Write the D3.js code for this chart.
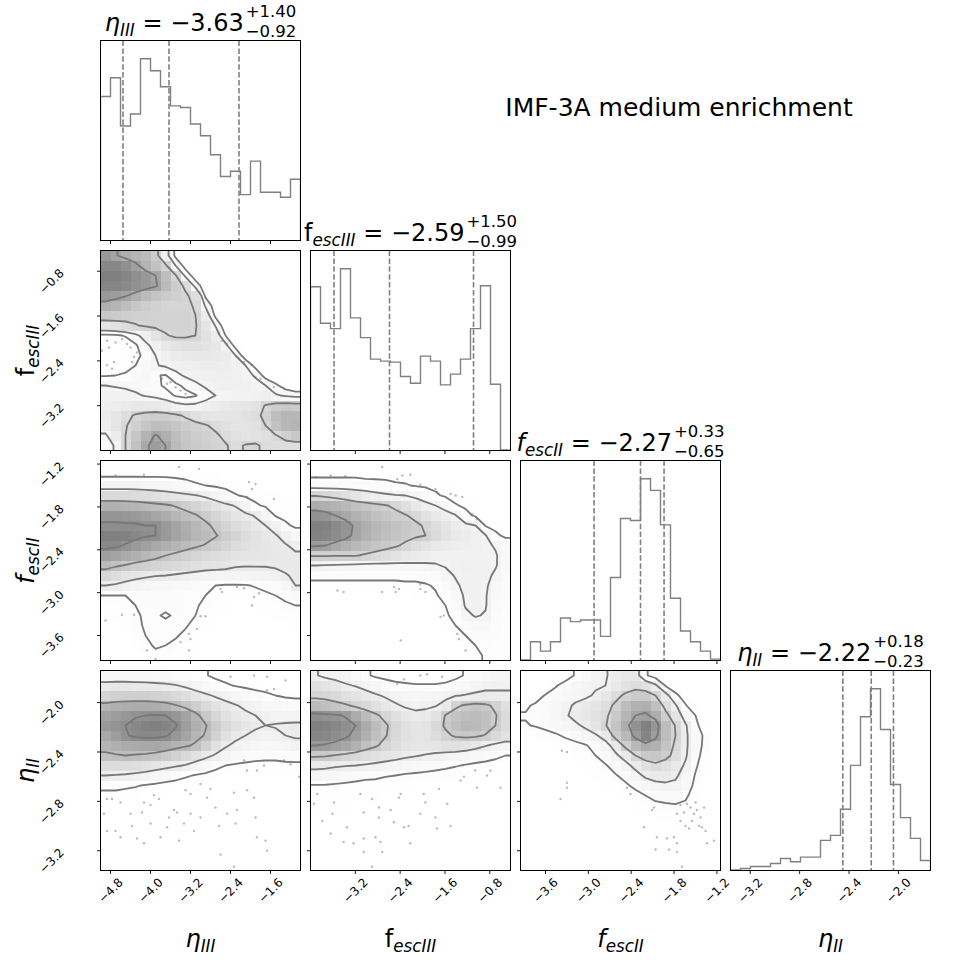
<!DOCTYPE html>
<html>
<head>
<meta charset="utf-8">
<script src="https://cdn.jsdelivr.net/npm/d3@7"></script>
<style>
  html,body{margin:0;padding:0;background:#fff;}
  svg{display:block;}
  text{font-family:"DejaVu Sans","Liberation Sans",sans-serif;fill:#000;}
</style>
</head>
<body>
<svg id="chart" width="970" height="970"></svg>
<script>
// ================= DATA =================
const SUPTITLE = "IMF-3A medium enrichment";

const RANGE_ETA3  = [-5.0, -1.0];
const RANGE_FESC3 = [-4.0, -0.43];
const RANGE_FESC2 = [-3.95, -1.15];
const RANGE_ETA2  = [-3.36, -1.74];

const TICKS_ETA3  = [-4.8, -4.0, -3.2, -2.4, -1.6];
const TICKS_FESC3 = [-3.2, -2.4, -1.6, -0.8];
const TICKS_FESC2 = [-3.6, -3.0, -2.4, -1.8, -1.2];
const TICKS_ETA2  = [-3.2, -2.8, -2.4, -2.0];

// 1D histogram counts (20 bins over each range)
const HIST_ETA3  = [430,486,342,378,543,507,459,402,397,348,313,256,191,207,137,237,144,144,129,183];
const HIST_FESC3 = [489,380,364,543,396,337,273,267,264,221,201,282,267,196,228,273,364,492,198,2];
const HIST_FESC2 = [2,56,28,56,127,116,121,121,72,248,424,418,543,508,405,186,88,56,28,4];
const HIST_ETA2  = [2,6,12,12,21,36,26,40,40,90,105,183,314,459,543,421,257,158,96,30];

const MEDIANS   = [-3.63, -2.59, -2.27, -2.22];
const ERR_PLUS  = [1.40, 1.50, 0.33, 0.18];
const ERR_MINUS = [0.92, 0.99, 0.65, 0.23];

// 2D (smoothed) histograms, 20x20, rows from top (high y) to bottom, columns left to right
const GRID_FESC3_ETA3 = [
[88,83,78,75,72,62,35,12,5,3,2,2,1,1,1,1,1,1,1,1],
[95,95,92,85,76,68,58,28,9,4,2,1,1,1,1,1,1,1,1,1],
[98,98,96,92,88,82,70,57,24,8,3,2,1,1,1,1,1,1,1,1],
[96,96,94,91,88,84,72,62,52,22,7,3,2,1,1,1,1,1,1,1],
[88,86,83,78,72,67,63,60,57,50,12,4,2,1,1,1,1,1,1,1],
[78,75,70,65,62,59,57,57,57,54,26,7,2,1,1,1,1,1,1,1],
[65,63,61,60,59,58,58,58,58,55,38,12,3,1,1,1,1,1,1,1],
[45,48,51,54,57,58,58,58,58,56,45,27,6,2,1,1,1,1,1,1],
[12,13,16,24,35,46,54,57,57,55,48,38,15,4,2,1,1,1,1,1],
[5,6,8,13,24,34,42,46,48,48,46,42,32,10,3,1,1,1,1,1],
[5,6,8,11,19,28,35,39,41,42,42,41,38,28,6,2,1,1,1,1],
[7,8,10,15,22,27,30,33,35,36,37,37,36,34,28,10,3,2,1,1],
[14,15,17,20,24,16,14,24,30,33,34,35,35,34,31,27,9,3,2,1],
[28,27,26,24,21,18,13,12,18,25,30,33,34,34,33,31,28,18,8,4],
[33,33,32,30,27,24,20,14,11,14,22,28,31,32,32,33,36,30,26,22],
[35,37,39,41,42,42,38,33,30,31,34,37,40,42,44,47,56,62,64,63],
[38,44,50,57,60,62,61,58,53,48,45,44,44,45,47,50,60,70,74,74],
[36,45,54,60,66,70,69,66,62,59,56,52,48,46,46,48,55,68,74,75],
[26,38,55,66,76,83,78,70,65,62,60,57,52,48,46,47,49,54,60,64],
[20,30,55,68,80,86,82,72,66,63,61,58,56,52,56,57,52,50,50,50]];
const LEVELS_FESC3_ETA3 = [15, 28, 55, 82];

const GRID_FESC2_ETA3 = [
[8,8,8,8,8,7,7,6,6,5,5,4,4,3,3,3,3,3,3,3],
[12,12,12,12,12,12,12,11,10,9,8,7,6,5,5,4,4,4,4,4],
[28,28,28,28,27,26,25,23,20,16,14,12,10,9,8,7,6,5,5,5],
[50,50,50,49,48,46,44,41,39,37,33,28,22,15,12,10,8,7,6,6],
[72,72,71,70,68,66,64,61,58,54,49,44,39,35,27,16,12,10,8,7],
[84,84,83,82,80,77,74,70,66,63,58,52,47,43,39,35,26,13,10,8],
[87,87,87,87,86,86,82,78,73,69,65,59,54,49,45,40,36,30,17,11],
[92,92,91,89,87,86,82,78,74,70,67,63,58,53,48,44,40,37,31,24],
[89,88,85,82,79,76,73,70,67,64,61,57,53,49,46,43,41,39,37,33],
[80,78,75,72,69,66,62,59,56,53,50,48,46,44,43,42,41,40,39,38],
[68,64,61,58,56,54,52,50,48,46,44,43,42,38,37,37,37,38,39,39],
[52,48,44,41,39,37,36,34,32,30,28,27,26,26,27,28,29,31,35,38],
[36,34,31,28,25,23,22,21,20,18,16,14,13,13,13,15,17,19,24,36],
[14,14,14,16,17,17,17,17,16,15,14,11,9,8,9,10,12,14,17,20],
[8,10,12,14,16,17,16,17,16,15,12,9,7,6,6,7,8,10,12,14],
[5,7,10,13,15,15,13,15,16,14,10,7,5,5,5,5,6,7,9,10],
[3,5,8,12,15,16,16,16,15,11,8,6,4,4,4,4,4,5,6,7],
[2,4,6,10,14,16,16,15,12,9,6,4,3,3,3,3,3,4,4,5],
[2,3,5,8,12,15,14,12,9,7,5,3,2,2,2,2,2,3,3,4],
[1,2,4,6,9,12,11,9,7,5,4,3,2,2,2,2,2,2,2,3]];
const LEVELS_FESC2_ETA3 = [14, 36, 62, 86];

const GRID_FESC2_FESC3 = [
[4,4,4,4,4,4,4,4,3,3,3,3,3,3,3,3,3,3,3,3],
[10,10,10,10,10,9,9,9,8,8,7,6,5,5,4,4,4,4,4,4],
[20,20,20,20,19,18,17,16,14,13,11,10,9,8,7,6,5,5,5,5],
[57,55,52,48,44,40,36,33,31,30,26,21,14,10,8,7,6,5,5,5],
[78,77,75,72,68,65,62,59,55,48,41,35,30,24,13,10,8,7,6,5],
[90,88,84,80,76,72,68,65,62,59,54,47,41,36,31,16,10,7,6,5],
[97,96,93,89,82,77,73,70,67,64,61,56,50,44,38,34,30,11,8,6],
[96,95,92,88,81,76,72,69,66,63,60,58,52,46,41,37,34,31,15,9],
[86,84,80,76,72,69,66,63,60,55,50,45,41,38,36,35,34,32,29,22],
[60,60,59,59,59,56,53,50,46,42,39,36,34,33,33,33,33,32,31,25],
[30,29,28,27,26,25,25,25,25,26,27,28,29,31,33,34,34,33,31,24],
[15,15,15,15,15,15,15,15,15,15,15,16,20,26,31,33,34,33,28,22],
[9,9,9,9,9,9,9,9,9,10,10,11,13,20,28,33,34,32,24,19],
[6,6,6,6,6,6,6,6,7,7,8,9,11,15,24,32,34,31,22,17],
[5,5,5,5,5,5,5,5,5,6,6,7,9,12,20,31,34,31,20,15],
[4,4,4,4,4,4,4,4,4,5,5,6,7,10,16,27,31,29,19,14],
[3,3,3,3,3,3,3,3,4,4,4,5,6,8,12,20,24,23,17,14],
[2,2,2,2,2,3,3,3,3,3,4,4,5,6,9,12,18,19,15,14],
[2,2,2,2,2,2,2,2,3,3,3,3,4,5,7,9,12,15,14,13],
[1,1,1,2,2,2,2,2,2,3,3,3,3,4,5,7,10,13,13,13]];
const LEVELS_FESC2_FESC3 = [12, 30, 58, 84];

const GRID_ETA2_ETA3 = [
[25,25,25,25,24,23,22,20,18,15,13,9,7,6,5,4,4,4,4,4],
[40,41,41,40,40,39,38,36,32,27,22,18,14,11,9,7,6,5,5,5],
[55,57,58,58,58,57,55,52,48,43,38,33,29,25,21,18,15,12,10,9],
[72,74,75,76,76,75,73,69,64,58,51,45,40,36,32,28,25,22,20,19],
[80,83,85,87,88,89,88,85,80,72,62,53,46,41,38,35,32,30,29,28],
[84,86,88,91,93,94,92,89,82,75,69,60,52,46,41,37,35,36,37,38],
[78,82,87,90,91,91,89,85,79,72,67,56,47,40,35,32,31,32,35,37],
[72,74,76,77,78,78,76,73,70,66,57,46,37,31,27,24,23,24,27,30],
[66,67,68,67,66,64,61,57,52,46,40,33,27,22,19,17,16,16,17,18],
[50,50,49,48,46,43,40,37,34,28,22,16,12,10,9,8,8,8,9,9],
[35,34,33,31,29,26,22,18,14,11,9,7,6,5,5,5,5,5,5,5],
[15,15,14,13,11,9,7,6,5,4,4,3,3,3,3,3,3,3,3,3],
[9,9,8,7,6,5,5,4,4,3,3,3,3,3,3,3,2,2,2,2],
[6,6,5,5,4,4,4,3,3,3,3,3,2,2,2,2,2,2,2,2],
[4,4,4,3,3,3,3,3,2,2,2,2,2,2,2,2,1,1,1,1],
[3,3,3,3,2,2,2,2,2,2,2,2,1,1,1,1,1,1,1,1],
[2,2,2,2,2,2,2,1,1,1,1,1,1,1,1,1,1,1,1,1],
[2,2,1,1,1,1,1,1,1,1,1,1,1,1,1,1,1,1,1,1],
[1,1,1,1,1,1,1,1,1,1,1,1,1,1,1,1,1,1,1,1],
[1,1,1,1,1,1,1,1,1,1,1,1,1,1,1,1,1,1,1,1]];
const LEVELS_ETA2_ETA3 = [12, 35, 68, 88];

const GRID_ETA2_FESC3 = [
[36,32,30,27,22,16,12,10,9,8,8,8,8,9,11,15,20,24,27,29],
[48,45,41,37,34,30,25,20,17,16,15,15,15,16,19,24,28,31,32,33],
[56,55,52,48,45,41,37,33,29,26,25,26,28,31,34,36,38,39,38,37],
[70,68,65,62,57,52,47,42,37,33,31,32,34,40,57,62,65,63,57,48],
[90,89,88,85,78,70,63,55,48,42,39,40,46,61,66,69,70,68,61,52],
[96,95,93,90,86,78,70,62,54,47,43,45,53,62,68,72,71,67,60,51],
[94,93,91,88,83,76,68,61,53,47,44,45,50,57,62,64,63,59,53,46],
[86,85,83,80,75,68,62,55,49,45,43,43,44,46,47,45,41,36,31,28],
[63,62,59,56,53,50,47,44,41,38,36,34,32,30,28,26,23,20,17,14],
[40,39,37,36,35,33,31,29,27,25,23,21,19,17,15,13,11,10,9,8],
[27,26,24,22,20,18,17,15,14,12,11,10,9,8,7,6,6,5,5,5],
[13,13,12,11,10,9,9,8,8,7,6,6,5,5,4,4,4,4,3,3],
[9,9,9,8,8,7,7,6,6,5,5,5,4,4,3,3,3,3,2,2],
[7,7,7,7,6,6,6,5,5,5,4,4,4,3,3,3,2,2,2,2],
[5,5,5,5,5,5,5,5,4,4,4,4,3,3,3,2,2,2,2,1],
[4,4,4,4,4,4,4,4,4,3,3,3,3,3,2,2,2,2,1,1],
[3,3,3,3,3,3,3,3,3,3,3,2,2,2,2,2,2,1,1,1],
[2,2,2,2,2,3,3,3,2,2,2,2,2,2,2,1,1,1,1,1],
[2,2,2,2,2,2,2,2,2,2,2,2,2,1,1,1,1,1,1,1],
[1,1,1,1,1,1,1,1,1,1,1,1,1,1,1,1,1,1,1,1]];
const LEVELS_ETA2_FESC3 = [14, 35, 60, 86];

const GRID_ETA2_FESC2 = [
[3,4,5,7,10,16,22,28,32,37,42,42,17,8,5,3,2,1,1,0],
[2,3,6,14,19,24,28,31,33,40,46,50,47,36,14,7,3,2,1,0],
[4,9,16,19,22,26,30,35,42,50,58,62,62,55,40,18,9,4,2,1],
[13,17,20,24,28,36,40,44,49,58,70,76,77,68,50,35,16,7,3,1],
[16,18,21,25,31,38,42,46,52,63,74,82,84,78,60,45,25,15,6,2],
[14,16,19,22,26,30,36,44,54,66,78,90,97,88,70,54,35,18,8,3],
[4,7,10,13,17,21,26,31,40,62,72,86,95,85,70,55,36,22,12,5],
[2,3,5,7,9,11,14,19,27,40,60,72,78,76,66,52,36,22,11,5],
[1,2,3,4,5,7,9,15,21,30,40,55,63,64,60,50,35,20,9,4],
[0,1,2,3,4,5,7,9,14,20,28,38,47,52,48,40,31,17,7,3],
[0,1,1,2,3,4,5,7,10,14,19,27,36,40,40,36,25,14,6,2],
[0,0,1,1,2,3,4,5,7,9,13,18,24,28,30,29,22,12,5,2],
[0,0,0,1,1,2,3,4,5,6,8,11,15,19,21,21,17,10,5,2],
[0,0,0,0,1,1,2,2,3,4,5,7,9,12,13,14,13,9,5,2],
[0,0,0,0,0,1,1,1,2,2,3,4,6,8,9,10,10,8,5,2],
[0,0,0,0,0,0,1,1,1,1,2,3,4,5,6,7,7,6,4,2],
[0,0,0,0,0,0,0,0,1,1,1,2,2,3,4,4,5,4,3,1],
[0,0,0,0,0,0,0,0,0,0,1,1,1,2,2,3,3,3,2,1],
[0,0,0,0,0,0,0,0,0,0,0,1,1,1,2,2,2,1,1,0],
[0,0,0,0,0,0,0,0,0,0,0,0,1,1,1,1,1,1,0,0]];
const LEVELS_ETA2_FESC2 = [15, 33, 55, 82];

// individual samples lying outside the lowest contour [x, y]
const POINTS_FESC3_ETA3 = [[-4.87,-2.04],[-4.83,-2.16],[-4.70,-2.07],[-4.57,-2.01],[-4.47,-2.10],[-4.40,-2.16],[-4.87,-2.48],[-4.73,-2.42],[-4.77,-2.54],[-4.33,-2.33],[-4.37,-2.42],[-4.27,-2.25],[-4.97,-2.22],[-3.77,-2.72],[-3.67,-2.81],[-3.50,-2.87],[-3.40,-2.93],[-3.30,-2.99],[-3.20,-3.05],[-3.60,-2.78],[-2.63,-1.92],[-2.57,-2.04],[-2.47,-2.10],[-2.27,-2.33],[-2.13,-2.42],[-1.97,-2.48],[-1.90,-2.69],[-1.80,-2.72],[-1.53,-2.87]];
const POINTS_FESC2_ETA3 = [[-4.70,-1.36],[-4.13,-1.35],[-3.43,-1.24],[-3.03,-1.27],[-2.03,-1.45],[-1.90,-1.48],[-1.97,-1.55],[-1.53,-1.69],[-2.07,-1.66],[-4.90,-3.39],[-4.57,-3.31],[-4.33,-3.31],[-2.60,-2.95],[-2.57,-2.99],[-2.27,-2.92],[-2.13,-2.94],[-1.93,-3.06],[-1.83,-3.01],[-3.00,-3.33],[-2.90,-3.33],[-3.23,-3.58],[-3.20,-3.65],[-3.40,-3.69],[-3.07,-3.51],[-3.23,-3.81],[-3.90,-3.93],[-4.07,-3.81],[-1.97,-3.18]];
const POINTS_FESC2_FESC3 = [[-3.91,-1.38],[-3.64,-1.36],[-3.38,-1.37],[-2.72,-1.24],[-2.45,-1.41],[-2.36,-1.36],[-2.22,-1.35],[-2.51,-1.45],[-2.04,-1.49],[-1.77,-1.55],[-1.74,-1.59],[-1.50,-1.62],[-1.41,-1.64],[-1.29,-1.66],[-1.11,-1.90],[-1.03,-1.97],[-2.72,-2.99],[-2.51,-2.92],[-2.42,-2.95],[-2.48,-2.99],[-2.04,-2.88],[-1.95,-2.99],[-2.04,-2.95],[-3.41,-2.99],[-3.52,-2.97],[-1.38,-3.58],[-1.35,-3.65],[-1.23,-3.81],[-2.39,-3.67],[-1.68,-3.34],[-1.62,-3.32]];
const POINTS_ETA2_ETA3 = [[-4.87,-2.78],[-4.77,-2.78],[-4.93,-2.90],[-4.60,-2.81],[-4.87,-3.04],[-4.70,-3.04],[-4.37,-3.00],[-4.27,-3.10],[-4.13,-3.14],[-4.17,-2.89],[-4.00,-2.83],[-4.13,-2.81],[-3.83,-2.78],[-3.93,-2.75],[-3.63,-2.93],[-3.53,-2.87],[-3.47,-2.89],[-3.43,-3.12],[-3.20,-2.90],[-3.33,-2.98],[-3.30,-2.71],[-3.20,-2.74],[-3.00,-2.66],[-2.80,-2.70],[-2.87,-2.77],[-2.70,-2.85],[-2.63,-3.00],[-2.47,-2.90],[-2.33,-2.73],[-2.27,-2.87],[-2.30,-2.98],[-2.13,-2.47],[-2.07,-2.55],[-1.93,-2.77],[-1.90,-2.93],[-1.87,-3.09],[-1.70,-3.12],[-1.67,-3.20],[-2.60,-3.23],[-2.33,-3.33],[-1.87,-2.55],[-1.73,-2.51],[-1.67,-1.90],[-1.53,-1.89],[-1.30,-1.82],[-1.33,-2.47],[-1.20,-2.50],[-1.03,-2.60],[-2.40,-1.79],[-1.93,-1.78],[-1.67,-1.79],[-2.07,-2.71],[-3.00,-2.93],[-3.67,-3.01],[-3.80,-3.09],[-4.40,-2.90],[-4.60,-3.09],[-4.00,-2.98],[-3.13,-3.04]];
const POINTS_ETA2_FESC3 = [[-3.88,-2.74],[-3.94,-2.82],[-3.58,-2.81],[-3.61,-2.90],[-3.79,-2.96],[-3.41,-3.13],[-3.23,-3.14],[-3.05,-3.10],[-2.84,-3.09],[-2.75,-3.13],[-2.72,-3.21],[-2.90,-3.33],[-3.11,-2.74],[-3.05,-2.89],[-2.90,-2.78],[-2.78,-2.85],[-2.78,-2.93],[-2.57,-2.87],[-2.51,-2.97],[-2.39,-2.74],[-2.42,-2.77],[-2.33,-3.01],[-2.25,-3.00],[-2.22,-3.14],[-2.04,-2.90],[-1.98,-2.74],[-1.95,-2.81],[-1.77,-2.93],[-1.74,-3.02],[-1.71,-2.70],[-1.56,-2.82],[-1.50,-3.00],[-1.32,-2.63],[-1.26,-2.60],[-1.03,-2.69],[-0.85,-2.59],[-0.79,-2.55],[-0.61,-2.69],[-1.06,-2.55],[-2.04,-1.78],[-1.92,-1.77],[-1.65,-1.79],[-2.45,-1.85],[-2.33,-1.81],[-3.05,-3.21],[-3.35,-3.01],[-3.64,-3.06]];
const POINTS_ETA2_FESC2 = [[-3.37,-2.39],[-3.30,-2.40],[-3.30,-2.65],[-3.30,-2.69],[-3.39,-2.78],[-2.46,-2.69],[-2.41,-2.74],[-2.08,-2.85],[-1.71,-2.83],[-1.66,-2.89],[-1.62,-2.82],[-1.57,-2.85],[-1.52,-2.90],[-1.48,-2.87],[-1.43,-2.93],[-1.50,-2.81],[-1.55,-2.96],[-1.64,-3.00],[-1.59,-3.02],[-1.45,-3.00],[-1.41,-3.01],[-1.36,-3.04],[-1.38,-2.85],[-1.76,-2.90],[-1.71,-2.96],[-1.80,-3.09],[-2.04,-3.09],[-1.90,-3.10],[-1.76,-3.14],[-2.06,-3.19],[-1.87,-3.19],[-1.76,-3.21],[-1.34,-3.14],[-1.24,-3.12],[-1.69,-3.33],[-2.22,-3.01],[-2.11,-2.87]];

// ================= RENDER =================
const svg = d3.select("#chart");
const SIZE = 200, STEP = 210, OX = 100.5, OY = 40.5;
const GRAY = "#808080";
const ranges = [RANGE_ETA3, RANGE_FESC3, RANGE_FESC2, RANGE_ETA2];
const tickSets = [TICKS_ETA3, TICKS_FESC3, TICKS_FESC2, TICKS_ETA2];
const hists = [HIST_ETA3, HIST_FESC3, HIST_FESC2, HIST_ETA2];
const names = [
  [{t:"η",it:1},{t:"III",it:1,sub:1}],
  [{t:"f"},{t:"escIII",it:1,sub:1}],
  [{t:"f",it:1},{t:"escII",it:1,sub:1}],
  [{t:"η",it:1},{t:"II",it:1,sub:1}]
];
const pairs = {
  "1-0": [GRID_FESC3_ETA3, LEVELS_FESC3_ETA3, POINTS_FESC3_ETA3],
  "2-0": [GRID_FESC2_ETA3, LEVELS_FESC2_ETA3, POINTS_FESC2_ETA3],
  "2-1": [GRID_FESC2_FESC3, LEVELS_FESC2_FESC3, POINTS_FESC2_FESC3],
  "3-0": [GRID_ETA2_ETA3, LEVELS_ETA2_ETA3, POINTS_ETA2_ETA3],
  "3-1": [GRID_ETA2_FESC3, LEVELS_ETA2_FESC3, POINTS_ETA2_FESC3],
  "3-2": [GRID_ETA2_FESC2, LEVELS_ETA2_FESC2, POINTS_ETA2_FESC2]
};
const X0 = k => OX + STEP * k;
const Y0 = k => OY + STEP * k;
const xS = ranges.map((r, k) => d3.scaleLinear().domain(r).range([X0(k), X0(k) + SIZE]));
const yS = ranges.map((r, k) => d3.scaleLinear().domain(r).range([Y0(k) + SIZE, Y0(k)]));
const fmt = v => d3.format(".1f")(v).replace("-", "\u2212");
const fmt2 = v => d3.format(".2f")(Math.abs(v));

const defs = svg.append("defs");
const layerFill = svg.append("g");
const layerAxes = svg.append("g");

function mathText(textSel, parts, size) {
  let shift = 0;
  parts.forEach(p => {
    const ts = textSel.append("tspan").text(p.t);
    if (p.it) ts.style("font-style", "italic");
    const target = p.sub ? size * 0.22 : 0;
    if (target !== shift) { ts.attr("dy", target - shift); shift = target; }
    ts.attr("font-size", p.sub ? size * 0.7 : size);
  });
  return shift;
}

function clipFor(id, x, y) {
  defs.append("clipPath").attr("id", id).append("rect")
    .attr("x", x).attr("y", y).attr("width", SIZE).attr("height", SIZE);
  return `url(#${id})`;
}

// ---- 2D panels ----
Object.entries(pairs).forEach(([key, [H, levels, pts]]) => {
  const [j, i] = key.split("-").map(Number);
  const xs = xS[i], ys = yS[j];
  const [xmin, xmax] = ranges[i], [ymin, ymax] = ranges[j];
  const n = H.length, m = H[0].length;
  const bw = (xmax - xmin) / m, bh = (ymax - ymin) / n;
  const flat = H.flat();
  const hmin = d3.min(flat), hmax = d3.max(flat);
  const g = layerFill.append("g").attr("clip-path", clipFor("clip" + j + i, X0(i), Y0(j)));

  const cells = [];
  H.forEach((row, r) => row.forEach((v, c) => cells.push({r, c, v})));
  g.selectAll("rect.cell").data(cells).join("rect")
    .attr("x", d => xs(xmin + d.c * bw))
    .attr("y", d => ys(ymax - d.r * bh))
    .attr("width", d => xs(xmin + (d.c + 1) * bw) - xs(xmin + d.c * bw) + 0.4)
    .attr("height", d => ys(ymax - (d.r + 1) * bh) - ys(ymax - d.r * bh) + 0.4)
    .attr("shape-rendering", "crispEdges")
    .attr("fill", d => {
      const u = (d.v - hmin) / (hmax - hmin);
      const b = Math.round(255 * (1 - 0.5 * u * u));
      return `rgb(${b},${b},${b})`;
    });

  g.selectAll("circle").data(pts).join("circle")
    .attr("cx", d => xs(d[0])).attr("cy", d => ys(d[1]))
    .attr("r", 1.25).attr("fill", "#666").attr("fill-opacity", 0.42);

  const N = n + 4, M = m + 4;
  const H2 = new Array(N * M).fill(hmin);
  for (let r = 0; r < n; r++) for (let c = 0; c < m; c++) H2[(r + 2) * M + c + 2] = H[r][c];
  for (let r = 0; r < n; r++) { H2[(r + 2) * M + 1] = H[r][0]; H2[(r + 2) * M + M - 2] = H[r][m - 1]; }
  for (let c = 0; c < m; c++) { H2[M + c + 2] = H[0][c]; H2[(N - 2) * M + c + 2] = H[n - 1][c]; }
  H2[M + 1] = H[0][0]; H2[M + M - 2] = H[0][m - 1];
  H2[(N - 2) * M + 1] = H[n - 1][0]; H2[(N - 2) * M + M - 2] = H[n - 1][m - 1];
  const contours = d3.contours().size([M, N]).thresholds(levels)(H2);
  const proj = d3.geoTransform({
    point: function(x, y) { this.stream.point(xs(xmin + (x - 2) * bw), ys(ymax - (y - 2) * bh)); }
  });
  const path = d3.geoPath(proj);
  g.selectAll("path.ct").data(contours).join("path")
    .attr("d", path).attr("fill", "none")
    .attr("stroke", "#777").attr("stroke-width", 1.8).attr("stroke-linejoin", "round");
});

// ---- 1D histograms ----
hists.forEach((counts, k) => {
  const xs = xS[k];
  const [lo, hi] = ranges[k];
  const nb = counts.length, bw = (hi - lo) / nb;
  const hy = d3.scaleLinear().domain([0, 1.1 * d3.max(counts)]).range([Y0(k) + SIZE, Y0(k)]);
  const g = layerFill.append("g").attr("clip-path", clipFor("cliph" + k, X0(k), Y0(k)));
  const pts = [[lo, 0]];
  counts.forEach((c, b) => { pts.push([lo + b * bw, c]); pts.push([lo + (b + 1) * bw, c]); });
  pts.push([hi, 0]);
  g.append("path").attr("d", d3.line().x(p => xs(p[0])).y(p => hy(p[1]))(pts))
    .attr("fill", "none").attr("stroke", GRAY).attr("stroke-width", 1.4);
  const q = [MEDIANS[k] - ERR_MINUS[k], MEDIANS[k], MEDIANS[k] + ERR_PLUS[k]];
  g.selectAll("line.q").data(q).join("line")
    .attr("x1", d => xs(d)).attr("x2", d => xs(d))
    .attr("y1", Y0(k)).attr("y2", Y0(k) + SIZE)
    .attr("stroke", GRAY).attr("stroke-width", 1.6).attr("stroke-dasharray", "5.5,2.4");

  // title
  const FS = 24, FSS = 16.5;
  const tg = svg.append("g");
  const base = Y0(k) - 9.5;
  const t = tg.append("text").attr("x", 0).attr("y", base).attr("font-size", FS);
  const sh = mathText(t, names[k], FS);
  t.append("tspan").attr("dy", -sh).attr("font-size", FS)
    .text(" = " + (MEDIANS[k] < 0 ? "\u2212" : "") + fmt2(MEDIANS[k]));
  const w = t.node().getComputedTextLength();
  const sp = tg.append("text").attr("x", w + 2).attr("y", base - 14.5).attr("font-size", FSS)
    .text("+" + fmt2(ERR_PLUS[k]));
  const sm = tg.append("text").attr("x", w + 2).attr("y", base + 5.5).attr("font-size", FSS)
    .text("\u2212" + fmt2(ERR_MINUS[k]));
  const W = w + 2 + Math.max(sp.node().getComputedTextLength(), sm.node().getComputedTextLength());
  tg.attr("transform", `translate(${X0(k) + SIZE / 2 - W / 2},0)`);
});

// ---- frames, ticks, tick labels ----
for (let j = 0; j < 4; j++) {
  for (let i = 0; i <= j; i++) {
    const x0 = X0(i), y0 = Y0(j);
    layerAxes.append("rect").attr("x", x0).attr("y", y0).attr("width", SIZE).attr("height", SIZE)
      .attr("fill", "none").attr("stroke", "#000").attr("stroke-width", 1);
    tickSets[i].forEach(tv => {
      const tx = xS[i](tv);
      layerAxes.append("line").attr("x1", tx).attr("x2", tx).attr("y1", y0 + SIZE).attr("y2", y0 + SIZE + 3.5)
        .attr("stroke", "#000").attr("stroke-width", 0.9);
      if (j === 3) {
        const cy = y0 + SIZE + 20;
        layerAxes.append("text").attr("x", tx).attr("y", cy).attr("font-size", 12)
          .attr("text-anchor", "middle").attr("dy", "0.35em")
          .attr("transform", `rotate(-45,${tx},${cy})`).text(fmt(tv));
      }
    });
    if (i < j) {
      tickSets[j].forEach(tv => {
        const ty = yS[j](tv);
        layerAxes.append("line").attr("x1", x0 - 3.5).attr("x2", x0).attr("y1", ty).attr("y2", ty)
          .attr("stroke", "#000").attr("stroke-width", 0.9);
        if (i === 0) {
          const cx = x0 - 49, cy = ty + 10;
          layerAxes.append("text").attr("x", cx).attr("y", cy).attr("font-size", 12)
            .attr("text-anchor", "middle").attr("dy", "0.35em")
            .attr("transform", `rotate(-45,${cx},${cy})`).text(fmt(tv));
        }
      });
    }
  }
}

// ---- axis labels ----
for (let k = 0; k < 4; k++) {
  const t = svg.append("text").attr("x", X0(k) + SIZE / 2).attr("y", 947)
    .attr("text-anchor", "middle").attr("font-size", 24);
  mathText(t, names[k], 24);
}
for (let j = 1; j < 4; j++) {
  const cy = Y0(j) + SIZE / 2, cx = 34;
  const t = svg.append("text").attr("x", cx).attr("y", cy)
    .attr("text-anchor", "middle").attr("font-size", 24)
    .attr("transform", `rotate(-90,${cx},${cy})`);
  mathText(t, names[j], 24);
}

// ---- suptitle ----
svg.append("text").attr("x", 679).attr("y", 116).attr("text-anchor", "middle")
  .attr("font-size", 25).text(SUPTITLE);
</script>
</body>
</html>
